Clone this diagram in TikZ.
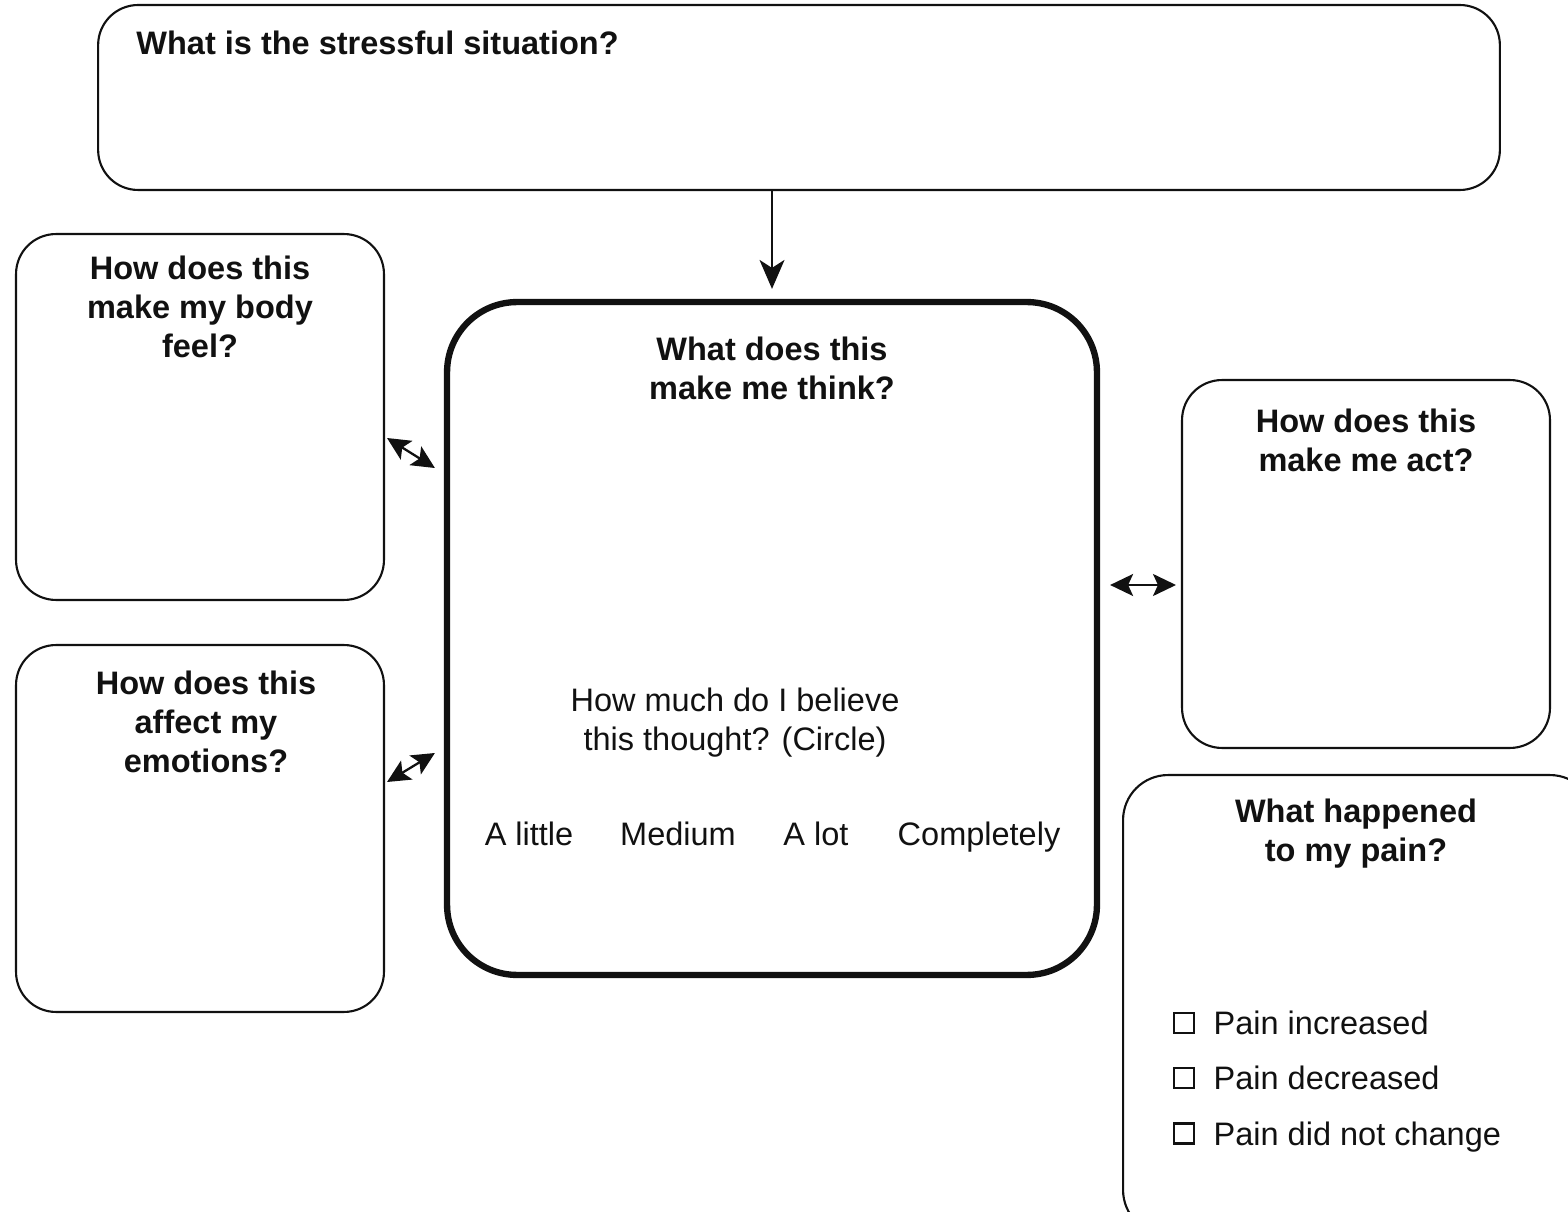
\documentclass[tikz,border=0pt]{standalone}
\usepackage{fontspec}
\setmainfont{Liberation Sans}
\usetikzlibrary{arrows.meta,positioning}
\definecolor{ink}{HTML}{111111}
\tikzset{
  panel/.style={rectangle, rounded corners=0.8cm, draw=ink, line width=1.2pt, inner sep=0pt},
  thinkpanel/.style={panel, rounded corners=1.4cm, line width=3.6pt},
  ask/.style={font=\fontsize{18.5}{22}\selectfont\bfseries, text=ink, align=center, inner sep=0pt},
  say/.style={font=\fontsize{18.5}{22}\selectfont, text=ink, align=center, inner sep=0pt},
  pick/.style={say, text depth=0pt},
  tickbox/.style={rectangle, draw=ink, line width=1.5pt, minimum size=0.4cm, inner sep=0pt},
  flow/.style={-{Stealth[length=0.58cm, width=0.5cm, inset=0.16cm]}, draw=ink, line width=1pt},
  link/.style={{Stealth[length=0.46cm, width=0.44cm, inset=0.1cm]}-{Stealth[length=0.46cm, width=0.44cm, inset=0.1cm]}, draw=ink, line width=1.3pt}
}

\begin{document}
\begin{tikzpicture}[x=0.02cm, y=-0.02cm]
 \clip (0,0) rectangle (1568,1212);
 % boxes
 \node[panel, minimum width=28.04cm, minimum height=3.7cm] (sit) at (799,97.5) {};
 \node[panel, minimum width=7.36cm, minimum height=7.32cm] (body) at (200,417) {};
 \node[panel, minimum width=7.36cm, minimum height=7.34cm] (emo) at (200,828.5) {};
 \node[thinkpanel, minimum width=13cm, minimum height=13.46cm] (think) at (772,638.5) {};
 \node[panel, minimum width=7.36cm, minimum height=7.36cm] (act) at (1366,564) {};
 \node[panel, rounded corners=0.9cm, minimum width=9.44cm, minimum height=9.2cm] (pain) at (1359,1005) {};

 % questions
 \node[ask, anchor=north west] (sitq) at ([shift={(39,27)}]sit.north west) {What is the stressful situation?};
 \node[ask, below=0.46cm of body.north] (bodyq) {How does this\\make my body\\feel?};
 \node[ask, below=0.54cm of emo.north, xshift=0.12cm] (emoq) {How does this\\affect my\\emotions?};
 \node[ask, below=0.76cm of think.north] (thinkq) {What does this\\make me think?};
 \node[ask, below=0.6cm of act.north] (actq) {How does this\\make me act?};
 \node[ask, below=0.5cm of pain.north, xshift=-0.06cm] (painq) {What happened\\to my pain?};

 % belief scale
 \node[say, anchor=north] (believe) at (735,688) {How much do I believe\\this thought? (Circle)};
 \node[say, anchor=base] (little) at (529,845) {A little};
 \node[say, anchor=base] (medium) at (678,845) {Medium};
 \node[say, anchor=base] (alot) at (816,845) {A lot};
 \node[say, anchor=base] (fully) at (979,845) {Completely};

 % pain checklist
 \node[tickbox] (tick1) at (1184,1023) {};
 \node[tickbox, below=0.65cm of tick1] (tick2) {};
 \node[tickbox, below=0.65cm of tick2] (tick3) {};
 \node[pick, right=0.36cm of tick1] (up) {Pain increased};
 \node[pick, right=0.36cm of tick2] (down) {Pain decreased};
 \node[pick, right=0.36cm of tick3] (same) {Pain did not change};

 \draw[flow] (sit.south -| think.north) -- ([yshift=0.2cm]think.north);
 \draw[link] ([shift={(2,21)}]body.east) -- ([shift={(-9,-170.5)}]think.west);
 \draw[link] ([shift={(2,-46.5)}]emo.east) -- ([shift={(-9,114.5)}]think.west);
 \draw[link] ([shift={(10,-53.5)}]think.east) -- ([shift={(-5,21)}]act.west);
\end{tikzpicture}
\end{document}
